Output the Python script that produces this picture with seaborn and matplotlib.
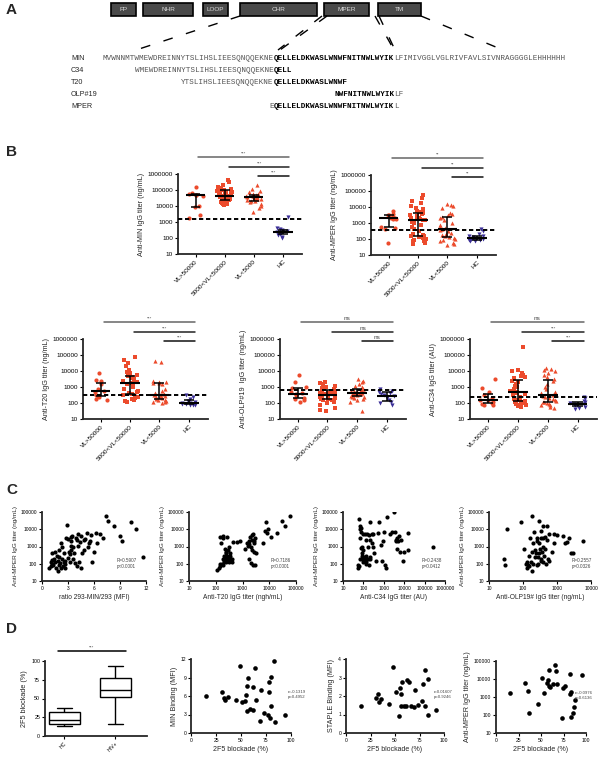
import numpy as np
import pandas as pd
import seaborn as sns
import matplotlib.pyplot as plt
from matplotlib.patches import Rectangle

W, H = 600, 759

# ---------------- data ----------------
domains = ["FP", "NHR", "LOOP", "CHR", "MPER", "TM"]
domain_x = [(111, 136), (143, 193), (203, 228), (240, 317), (324, 369), (378, 421)]

seq_labels = ["MIN", "C34", "T20", "OLP#19", "MPER"]
seq_start = [0, 7, 17, 50, 36]
seq_parts = [
    [("MVWNNMTWMEWDREINNYTSLIHSLIEESQNQQEKNE", False), ("QELLELDKWASLWNWFNITNWLWYIK", True),
     ("LFIMIVGGLVGLRIVFAVLSIVNRAGGGGLEHHHHHH", False)],
    [("WMEWDREINNYTSLIHSLIEESQNQQEKNE", False), ("QELL", True)],
    [("YTSLIHSLIEESQNQQEKNE", False), ("QELLELDKWASLWNWF", True)],
    [("NWFNITNWLWYIK", True), ("LF", False)],
    [("E", False), ("QELLELDKWASLWNWFNITNWLWYIK", True), ("L", False)],
]

groups = ["VL>50000", "5000<VL<50000", "VL<5000", "HC"]

min_titer = [
    [1700, 2700, 9000, 10000, 45000, 48000, 52000, 60000, 65000, 150000],
    [400000, 300000, 200000, 160000, 130000, 120000, 110000, 105000, 100000, 90000, 80000, 70000,
     65000, 60000, 55000, 50000, 47000, 45000, 42000, 40000, 38000, 35000, 32000, 30000, 28000,
     26000, 24000, 22000, 20000, 18000, 16000, 15000, 14000, 13000, 12000],
    [200000, 110000, 90000, 70000, 60000, 55000, 52000, 48000, 45000, 42000, 40000, 37000, 35000,
     33000, 30000, 28000, 26000, 24000, 22000, 20000, 17000, 14000, 10000, 7000, 4500],
    [2000, 400, 350, 320, 280, 260, 240, 220, 200, 180, 150, 120, 100],
]
mper_titer = [
    [5500, 3500, 3200, 3000, 2500, 2100, 2000, 1800, 1700, 600, 500, 450, 60],
    [60000, 35000, 25000, 18000, 12000, 9000, 7000, 5500, 5000, 4500, 4000, 3500, 3000, 2800, 2500,
     2200, 2000, 1800, 1600, 1500, 1200, 1000, 800, 600, 450, 300, 220, 180, 160, 150, 140, 120,
     100, 90, 80, 70, 60, 50],
    [15000, 14000, 12000, 9000, 4000, 3500, 3000, 2500, 2000, 1500, 1000, 800, 600, 500, 450, 400,
     350, 300, 250, 200, 180, 150, 130, 120, 100, 90, 70, 60, 50, 40],
    [450, 300, 200, 160, 150, 130, 110, 100, 95, 90, 85, 80, 70],
]
t20_titer = [
    [8000, 2800, 2500, 1500, 700, 600, 500, 300, 280, 250, 180, 150],
    [70000, 50000, 30000, 20000, 12000, 9000, 7000, 5500, 5000, 4000, 3500, 3000, 2500, 2200, 2000,
     1800, 1600, 1400, 1200, 1000, 800, 600, 500, 400, 350, 300, 250, 200, 170, 150, 130, 120],
    [40000, 38000, 2500, 2200, 2000, 1900, 1800, 1500, 800, 600, 400, 350, 300, 280, 260, 250, 230,
     200, 180, 160, 150, 130, 120, 110, 100],
    [300, 250, 180, 140, 110, 100, 95, 90, 85, 80, 75, 70],
]
olp_titer = [
    [6000, 2000, 1000, 900, 500, 400, 350, 300, 200, 170, 150, 120],
    [2000, 1800, 1500, 1200, 1000, 900, 800, 700, 650, 600, 550, 500, 450, 420, 400, 380, 350, 330,
     320, 300, 280, 260, 250, 230, 220, 200, 190, 180, 160, 150, 120, 100, 80, 50, 35, 30],
    [3000, 2500, 2000, 1500, 1200, 1000, 800, 700, 650, 600, 550, 500, 480, 450, 420, 400, 380, 350,
     320, 300, 280, 250, 230, 200, 180, 150, 120, 30],
    [800, 600, 520, 450, 350, 300, 280, 200, 150, 120, 100, 70],
]
c34_titer = [
    [3000, 900, 500, 300, 200, 160, 150, 120, 100, 90, 80, 70],
    [300000, 12000, 10000, 8000, 6000, 5000, 4000, 3500, 3000, 2500, 2000, 1500, 1200, 1000, 800,
     600, 500, 450, 400, 350, 300, 250, 200, 180, 150, 130, 120, 110, 100, 90, 80, 70, 65, 60],
    [16000, 14000, 12000, 10000, 8000, 6000, 4000, 3000, 2500, 1500, 1000, 700, 500, 400, 350, 300,
     280, 250, 200, 180, 150, 130, 120, 110, 100, 90, 80, 70, 60, 50],
    [250, 200, 130, 110, 100, 90, 85, 80, 70, 60, 50, 45],
]
cutoffs = [1500, 390, 300, 620, 250]
stars_b = [["***", "***", "***"], ["**", "**", "**"], ["***", "***", "***"],
           ["ns", "ns", "ns"], ["ns", "***", "***"]]

# panel C
ratio_min = [0.8, 1.0, 1.0, 1.1, 1.2, 1.2, 1.3, 1.4, 1.5, 1.6, 1.7, 1.8, 1.9, 2.0, 2.0, 2.1, 2.2, 2.2,
             2.3, 2.4, 2.5, 2.5, 2.6, 2.7, 2.8, 2.9, 3.0, 3.0, 3.1, 3.2, 3.3, 3.3, 3.4, 3.4, 3.5, 3.6,
             3.7, 3.8, 3.9, 4.0, 4.0, 4.2, 4.3, 4.4, 4.5, 4.5, 4.6, 4.8, 5.0, 5.2, 5.4, 5.5, 5.6, 5.8,
             6.2, 6.4, 6.7, 7.0, 4.1, 2.3, 3.2, 1.5, 2.0, 2.7, 3.6, 4.9, 5.3, 6.0, 7.4, 7.6, 8.3, 9.0,
             9.2, 10.3, 10.8, 11.6]
mper_c1 = [55, 70, 130, 160, 100, 420, 85, 200, 130, 60, 280, 150, 40, 650, 90, 110, 55, 1600, 180,
           70, 400, 130, 95, 60, 3200, 17000, 220, 2800, 500, 130, 3500, 1100, 600, 2000, 3800, 180,
           400, 110, 3200, 2400, 75, 5500, 120, 1900, 60, 4200, 400, 2500, 2800, 5800, 1700, 2100,
           4500, 120, 5800, 1700, 5500, 3000, 1100, 1000, 350, 450, 240, 150, 900, 650, 1000, 500,
           60000, 30000, 16000, 4000, 2000, 25000, 11000, 260]
t20_c2 = [110, 130, 140, 150, 150, 160, 170, 180, 180, 190, 200, 200, 210, 220, 220, 230, 240, 240,
          250, 260, 260, 270, 280, 290, 300, 300, 320, 330, 350, 380, 400, 420, 450, 600, 800, 1200,
          1500, 1600, 1700, 1800, 1900, 2000, 2000, 2200, 2300, 2400, 2500, 2600, 2800, 2900, 3000,
          3100, 6000, 7000, 7500, 8000, 9000, 12000, 20000, 30000, 40000, 60000, 2200, 1800, 300,
          250, 180, 2700]
mper_c2 = [45, 60, 100, 3500, 70, 1500, 100, 80, 200, 4000, 160, 300, 120, 250, 700, 180, 130, 400,
           220, 3500, 150, 300, 200, 600, 130, 250, 180, 400, 300, 160, 200, 130, 1800, 1900, 2200,
           700, 1500, 1100, 2000, 1400, 3500, 110, 900, 4500, 2500, 80, 5000, 1700, 500, 90, 3000,
           400, 1500, 8000, 25000, 6000, 10000, 3500, 6000, 30000, 16000, 60000, 600, 200, 900, 500,
           3000, 2000]
c34_c3 = [55, 55, 60, 60, 65, 70, 70, 75, 80, 80, 85, 85, 90, 90, 100, 100, 110, 110, 120, 120, 130,
          130, 140, 140, 150, 160, 170, 180, 180, 200, 200, 220, 220, 250, 280, 300, 350, 400, 500,
          600, 700, 800, 900, 1000, 1200, 1300, 1500, 2000, 2500, 3000, 3500, 4000, 4200, 4500, 5000,
          5500, 6000, 7000, 9000, 10000, 15000, 16000, 250000, 3800, 70, 95, 260]
mper_c3 = [60, 80, 70, 40000, 3000, 15000, 10000, 12000, 7000, 800, 1000, 300, 400, 180, 600, 5000,
           250, 150, 200, 5000, 120, 2500, 300, 100, 5500, 180, 1000, 4500, 80, 2500, 200, 250, 25000,
           1500, 1000, 5000, 400, 150, 6000, 25000, 1200, 140, 2000, 6500, 80, 60, 50000, 5000, 7000,
           100000, 7000, 2500, 3000, 700, 2000, 4000, 500, 2500, 150, 500, 6000, 600, 900, 2000, 200,
           120, 5000]
olp_c4 = [28, 30, 33, 90, 110, 120, 130, 140, 150, 160, 170, 180, 190, 200, 200, 210, 220, 230, 240,
          250, 260, 280, 290, 300, 300, 320, 330, 340, 350, 360, 380, 400, 400, 420, 450, 480, 500,
          520, 550, 600, 700, 800, 1000, 1500, 1700, 2000, 2200, 2500, 3000, 6000, 150, 250, 350, 450,
          190, 270, 600, 130, 380, 800]
mper_c4 = [200, 80, 11000, 25000, 700, 100, 60, 80, 70, 3000, 130, 60000, 40, 1500, 100, 7000, 250,
           600, 400, 80, 3000, 100, 1500, 400, 30000, 700, 200, 8000, 3000, 500, 120, 15000, 1000, 300,
           3500, 100, 2500, 15000, 200, 5000, 500, 5000, 4500, 4000, 1500, 1800, 3000, 400, 400, 2000,
           300, 2000, 150, 700, 500, 250, 150, 130, 3000, 1500]

# panel D
block_hc = [13, 14, 15, 16, 19, 21, 23, 31, 33, 34, 38]
block_min = [15.4, 30.8, 32.7, 33.8, 36.5, 45, 48.8, 50.8, 53.8, 55, 55.8, 56.9, 55.8, 58.5, 61.5,
             61.5, 63.5, 65.4, 70, 69.2, 73, 77, 77.7, 78, 78.8, 80, 80, 82.7, 83.8, 94]
min_binding = [6.0, 6.6, 5.6, 5.4, 5.8, 5.3, 10.9, 5.1, 5.2, 6.1, 7.6, 9.0, 3.5, 3.9, 3.7, 7.4, 10.5,
               5.4, 7.0, 2.0, 3.3, 3.0, 6.6, 8.3, 2.5, 9.1, 4.3, 11.7, 1.8, 3.0]
block_staple = [15, 30.6, 33, 33.7, 36, 44, 48, 51, 53.7, 55, 56, 56, 57.6, 58.8, 61.6, 62.7, 64.7,
                65.9, 69.4, 70.6, 73.3, 77.6, 78.8, 80.4, 81, 83.5, 84, 92]
staple_binding = [1.44, 1.87, 2.13, 1.66, 1.84, 1.57, 3.55, 2.23, 0.94, 2.41, 2.1, 1.48, 2.75, 1.48,
                  1.44, 2.86, 2.77, 1.48, 1.4, 2.34, 1.51, 1.71, 2.67, 3.4, 1.48, 2.92, 0.99, 1.26]
block_mper = [16, 32, 35, 37, 47, 51, 53, 57, 57.6, 58.5, 59, 60.4, 63.8, 65, 66.8, 68, 72.8, 74.5,
              76.6, 82, 82, 83, 83.8, 85, 87, 88, 96]
mper_d = [1600, 6200, 2200, 126, 400, 10700, 1600, 6200, 8700, 33000, 4000, 3400, 5600, 63000,
          27000, 5200, 67, 3000, 4000, 20000, 1400, 80, 2000, 126, 270, 680, 17000]

# ---------------- figure ----------------
np.random.seed(7)
sns.set_style("ticks")
plt.rcParams["font.family"] = ["Liberation Sans", "DejaVu Sans"]
plt.rcParams["axes.linewidth"] = 1.3
plt.rcParams["xtick.major.width"] = 0.8
plt.rcParams["ytick.major.width"] = 0.8
plt.rcParams["xtick.major.size"] = 2
plt.rcParams["ytick.major.size"] = 2
plt.rcParams["xtick.major.pad"] = 1.5
plt.rcParams["ytick.major.pad"] = 1.5

RED = "#ec4b2c"
BLUE = "#3b2f97"
group_style = [("o", RED), ("s", RED), ("^", RED), ("v", BLUE)]

fig = plt.figure(figsize=(6, 7.59), dpi=100)

bg = fig.add_axes([0, 0, 1, 1])
bg.set_xlim(0, W)
bg.set_ylim(H, 0)
bg.axis("off")


def add_ax(x0, y0, x1, y1):
    return fig.add_axes([x0 / W, 1 - y1 / H, (x1 - x0) / W, (y1 - y0) / H])


def style_ax(ax, size):
    sns.despine(ax=ax)
    ax.tick_params(labelsize=size, colors="black")


for lab, (x, y) in zip("ABCD", [(6, 10), (6, 152), (6, 490), (6, 629)]):
    bg.text(x, y, lab, fontsize=11, fontweight="bold", va="center", ha="left")

# ---- panel A ----
for name, (x0, x1) in zip(domains, domain_x):
    bg.add_patch(Rectangle((x0, 3), x1 - x0, 13, facecolor="#4a4a4a", edgecolor="black", lw=1.2))
    bg.text((x0 + x1) / 2, 9.5, name, color="#dddddd", fontsize=4.6, ha="center", va="center")

dash = dict(color="black", lw=1.0, ls=(0, (7, 10)))
bg.plot([240, 136], [16, 50], **dash)
bg.plot([322, 278], [16, 50], **dash)
bg.plot([327, 280], [16, 50], **dash)
bg.plot([375, 394], [16, 50], **dash)
bg.plot([379, 395], [16, 50], **dash)
bg.plot([421, 503], [16, 50], **dash)

cw = 4.635
seq_y = [58, 70, 82, 95, 107]
for lab, start, parts, y in zip(seq_labels, seq_start, seq_parts, seq_y):
    bg.text(71, y, lab, fontsize=5.2, va="center", ha="left")
    idx = start
    for txt, bold in parts:
        bg.text(102.5 + idx * cw, y, txt, family="Liberation Mono", fontsize=5.5,
                fontweight="bold" if bold else "normal",
                color="black" if bold else "#555555", va="center", ha="left")
        idx += len(txt)

# ---- panel B ----
b_rects = [(178, 174, 302, 254), (371, 175, 496, 255), (83, 339, 208, 419),
           (280, 339, 406, 419), (470, 339, 597, 419)]
b_data = [min_titer, mper_titer, t20_titer, olp_titer, c34_titer]
b_ylabels = ["Anti-MIN IgG titer (ng/mL)", "Anti-MPER IgG titer (ng/mL)",
             "Anti-T20 IgG titer (ng/mL)", "Anti-OLP#19  IgG titer (ng/mL)",
             "Anti-C34 IgG titer (AU)"]
bar_levels = [1.21, 1.09, 0.97]
bar_spans = [(0.1, 3.2), (1.15, 3.22), (2.15, 3.22)]
bar_colors = ["#666666", "#222222", "#111111"]
yt = [10, 100, 1000, 10000, 100000, 1000000]

for rect, data, ylab, cut, stars in zip(b_rects, b_data, b_ylabels, cutoffs, stars_b):
    ax = add_ax(*rect)
    ax.set_yscale("log")
    for i, (vals, (mk, col)) in enumerate(zip(data, group_style)):
        sns.stripplot(x=[groups[i]] * len(vals), y=vals, order=groups, marker=mk, color=col,
                      size=3.0, jitter=0.27, linewidth=0, ax=ax, zorder=3)
        q1, med, q3 = np.percentile(vals, [25, 50, 75])
        ax.hlines(med, i - 0.33, i + 0.33, color="black", lw=1.5, zorder=5)
        ax.vlines(i, q1, q3, color="black", lw=1.1, zorder=5)
        ax.hlines([q1, q3], i - 0.17, i + 0.17, color="black", lw=1.1, zorder=5)
    ax.axhline(cut, color="black", ls=(0, (2.2, 1.4)), lw=1.4, zorder=4)
    ax.set_ylim(10, 1000000)
    ax.set_xlim(-0.6, 3.65)
    ax.set_yticks(yt)
    ax.set_yticklabels([str(v) for v in yt])
    ax.minorticks_off()
    ax.set_xticks(range(4))
    ax.set_xticklabels(groups, rotation=45, ha="right", rotation_mode="anchor")
    ax.set_xlabel("")
    ax.set_ylabel(ylab, fontsize=5.2, labelpad=2)
    style_ax(ax, 4.6)
    tr = ax.get_xaxis_transform()
    for lvl, (a, b), s, c in zip(bar_levels, bar_spans, stars, bar_colors):
        ax.plot([a, b], [lvl, lvl], transform=tr, clip_on=False, color=c, lw=1.1)
        ax.text((a + b) / 2, lvl + 0.015, s, transform=tr, ha="center", va="bottom",
                fontsize=4.6 if s == "ns" else 3.2, color="#444444")

# ---- panel C ----
c_rects = [(42, 512, 146, 581), (189, 512, 296, 581), (343, 512, 445, 581), (489, 512, 591, 581)]
c_x = [ratio_min, t20_c2, c34_c3, olp_c4]
c_y = [mper_c1, mper_c2, mper_c3, mper_c4]
c_xlabels = ["ratio 293-MIN/293 (MFI)", "Anti-T20 IgG titer (ngh/mL)",
             "Anti-C34 IgG titer (AU)", "Anti-OLP19# IgG titer (ng/mL)"]
c_stats = ["R=0.5907\np<0.0001", "R=0.7186\np<0.0001", "R=0.2438\np=0.0412", "R=0.2557\np=0.0326"]
c_xticks = [[0, 3, 6, 9, 12], [10, 100, 1000, 10000, 100000],
            [10, 100, 1000, 10000, 100000, 1000000], [10, 100, 1000, 10000]]
c_textx = [0.72, 0.76, 0.77, 0.81]
yc = [10, 100, 1000, 10000, 100000]

for k, (rect, xs, ys, xl, st, xt, tx) in enumerate(zip(c_rects, c_x, c_y, c_xlabels, c_stats,
                                                       c_xticks, c_textx)):
    ax = add_ax(*rect)
    ax.set_yscale("log")
    if k > 0:
        ax.set_xscale("log")
    sns.scatterplot(x=xs, y=ys, color="black", s=9, linewidth=0, ax=ax)
    ax.set_ylim(10, 100000)
    ax.set_xlim(xt[0], xt[-1])
    ax.set_xticks(xt)
    ax.set_xticklabels([str(v) for v in xt])
    ax.set_yticks(yc)
    ax.set_yticklabels([str(v) for v in yc])
    ax.minorticks_off()
    ax.set_xlabel(xl, fontsize=4.8, labelpad=2)
    ax.set_ylabel("Anti-MPER IgG titer (ng/mL)", fontsize=4.6, labelpad=2)
    ax.text(tx, 0.33, st, transform=ax.transAxes, fontsize=3.3, color="#444444", va="top",
            ha="left", linespacing=1.3)
    style_ax(ax, 3.5)

# ---- panel D ----
ax = add_ax(45, 661, 147, 736)
box_df = pd.DataFrame({"group": ["HC"] * len(block_hc) + ["HIV+"] * len(block_min),
                       "blockade": block_hc + block_min})
sns.boxplot(data=box_df, x="group", y="blockade", order=["HC", "HIV+"], whis=(0, 100),
            width=0.6, color="white", linecolor="black", linewidth=1.0, ax=ax)
ax.set_ylim(0, 100)
ax.set_xlim(-0.38, 1.62)
ax.set_yticks([0, 25, 50, 75, 100])
ax.set_xticks([0, 1])
ax.set_xticklabels(["HC", "HIV+"], rotation=45, ha="right", rotation_mode="anchor")
ax.set_xlabel("")
ax.set_ylabel("2F5 blockade (%)", fontsize=5.2, labelpad=2)
style_ax(ax, 3.8)
tr = ax.get_xaxis_transform()
ax.plot([-0.12, 1.2], [1.13, 1.13], transform=tr, clip_on=False, color="black", lw=1.1)
ax.text(0.54, 1.15, "***", transform=tr, ha="center", va="bottom", fontsize=3.2, color="#444444")

d_rects = [(191, 659, 291, 733), (346, 659, 444, 733), (496, 661, 586, 733)]
d_x = [block_min, block_staple, block_mper]
d_y = [min_binding, staple_binding, mper_d]
d_ylabels = ["MIN Binding (MFI)", "STAPLE Binding (MFI)", "Anti-MPER IgG titer (ng/mL)"]
d_stats = ["r=-0.1319\np=0.4952", "r=0.01607\np=0.9246", "r=-0.0976\np=0.6136"]
d_yticks = [[0, 3, 6, 9, 12], [0, 1, 2, 3, 4], [10, 100, 1000, 10000, 100000]]
d_textx = [0.97, 0.9, 0.88]

for k, (rect, xs, ys, yl, st, ytk, tx) in enumerate(zip(d_rects, d_x, d_y, d_ylabels, d_stats,
                                                        d_yticks, d_textx)):
    ax = add_ax(*rect)
    if k == 2:
        ax.set_yscale("log")
    sns.scatterplot(x=xs, y=ys, color="black", s=11, linewidth=0, ax=ax)
    ax.set_xlim(0, 100)
    ax.set_ylim(ytk[0], ytk[-1])
    ax.set_xticks([0, 25, 50, 75, 100])
    ax.set_yticks(ytk)
    ax.set_yticklabels([str(v) for v in ytk])
    ax.minorticks_off()
    ax.set_xlabel("2F5 blockade (%)", fontsize=5.0, labelpad=2)
    ax.set_ylabel(yl, fontsize=5.2, labelpad=2)
    ax.text(tx, 0.52, st, transform=ax.transAxes, fontsize=3.1, color="#444444", va="center",
            ha="left", linespacing=1.3)
    style_ax(ax, 3.6)

fig.savefig("out.png", dpi=100)
plt.close(fig)
